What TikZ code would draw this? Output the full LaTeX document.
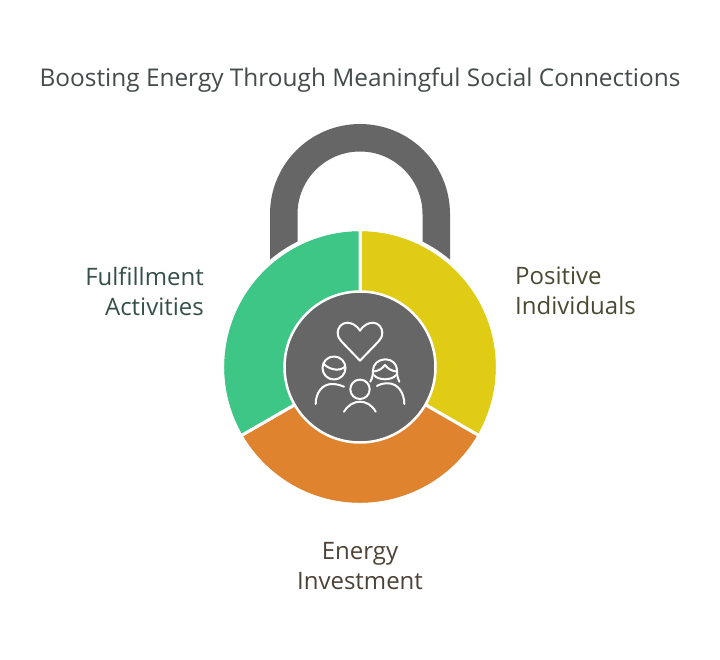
\documentclass[tikz,border=0pt]{standalone}
\usepackage{fontspec}
\setmainfont{Open Sans}
\definecolor{shack}{HTML}{666666}
\definecolor{cgreen}{HTML}{3DC685}
\definecolor{cyellow}{HTML}{E0CC14}
\definecolor{corange}{HTML}{DF832E}
\definecolor{ttl}{HTML}{454B4B}
\definecolor{tgreen}{HTML}{35504A}
\definecolor{tyellow}{HTML}{4A4A32}
\definecolor{torange}{HTML}{4D4236}
\begin{document}
\begin{tikzpicture}[x=1pt,y=1pt,
  lbl/.style={inner sep=0pt,font=\fontsize{24}{30}\selectfont},
  sector/.style={draw=white,line width=3pt,line join=miter},
  ico/.style={draw=white,line width=2pt,line cap=round,line join=round,fill=none}]
\useasboundingbox (0,0) rectangle (720,659);
\fill[white] (0,0) rectangle (720,659);
\coordinate (c) at (360,292);
% shackle
\fill[shack] (270,380) -- (270,445) arc[start angle=180,end angle=0,radius=90] -- (450,380)
  -- (422.5,380) -- (422.5,445) arc[start angle=0,end angle=180,radius=62.5] -- (297.5,380) -- cycle;
\fill[white] (c) circle[radius=139];
% sectors
\begin{scope}[shift={(c)}]
\filldraw[fill=cyellow,sector] (90:137.5) arc[start angle=90,end angle=-30,radius=137.5] -- (0,0) -- cycle;
\filldraw[fill=corange,sector] (-30:137.5) arc[start angle=-30,end angle=-150,radius=137.5] -- (0,0) -- cycle;
\filldraw[fill=cgreen,sector] (210:137.5) arc[start angle=210,end angle=90,radius=137.5] -- (0,0) -- cycle;
\draw[white,line width=4pt] (0,0) circle[radius=138];
\filldraw[fill=shack,draw=white,line width=2.5pt] (0,0) circle[radius=75.5];
\end{scope}
% heart
\draw[ico] (360,328.3) .. controls (356,334.5) and (351,336.3) .. (347,336.3)
  .. controls (341.5,336.3) and (337.7,331) .. (337.7,326.5)
  .. controls (337.7,322) and (339.5,319.5) .. (342,317) -- (360,298.3) -- (378,317)
  .. controls (380.5,319.5) and (382.3,322) .. (382.3,326.5)
  .. controls (382.3,331) and (378.5,336.3) .. (373,336.3)
  .. controls (369,336.3) and (364,334.5) .. (360,328.3) -- cycle;
% left person
\draw[ico] (334,291) circle[radius=11.5];
\draw[ico] (323.5,295.5) .. controls (328,290) and (339,286.5) .. (345.3,292.5);
\draw[ico] (315.7,255) .. controls (315.7,266) and (322,275) .. (332,275) .. controls (336,275) and (340,274) .. (344,272.3);
% child
\draw[ico] (360,269.7) circle[radius=9.7];
\draw[ico] (344,247.3) .. controls (348,254) and (354,257.3) .. (360,257.3) .. controls (366,257.3) and (372,254) .. (375.7,247.3);
% right person
\draw[ico] (370.3,277.3) .. controls (373,282) and (373,286) .. (373,289)
  .. controls (373,295) and (379,299.7) .. (385.3,299.7)
  .. controls (392,299.7) and (397,295) .. (397,289)
  .. controls (397,286) and (397,282) .. (399.3,277.3);
\draw[ico] (373.5,287.5) .. controls (378,288) and (382,290) .. (385,294) .. controls (388,290) and (392,288) .. (396.5,287.5);
\draw[ico] (374,284) .. controls (376,281) and (381,279.7) .. (385,279.7) .. controls (389,279.7) and (394,281) .. (396,284);
\draw[ico] (377,273) .. controls (380,275) and (384,275.7) .. (388,275.7) .. controls (398,275.7) and (404.3,266) .. (404.3,255);
% text
\node[lbl,anchor=center,text=ttl,font=\fontsize{24.4}{30}\selectfont] (title) at (360,578.5) {Boosting Energy Through Meaningful Social Connections};
\node[lbl,anchor=east,align=right,text=tgreen] (left) at (204,368) {Fulfillment\\Activities};
\node[lbl,anchor=west,align=left,text=tyellow] (right) at (515,368) {Positive\\Individuals};
\node[lbl,anchor=center,align=center,text=torange] (bottom) at (360,93) {Energy\\Investment};
\end{tikzpicture}
\end{document}
